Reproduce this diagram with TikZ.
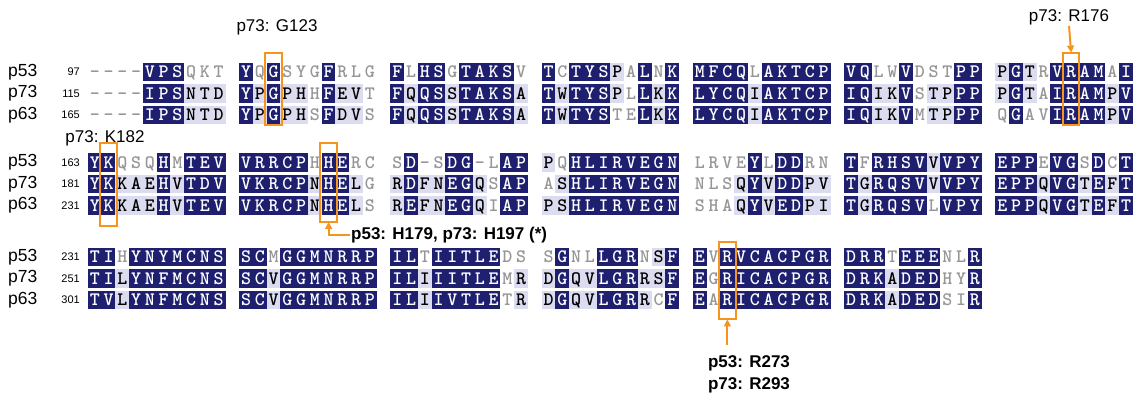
\documentclass[tikz,border=0pt]{standalone}
\usepackage{fontspec}
\setmainfont{Liberation Sans}
\usepackage{xstring}
\usetikzlibrary{arrows.meta,calc}

\definecolor{navy}{RGB}{31,31,112}
\definecolor{lav}{RGB}{220,220,240}
\definecolor{resgray}{RGB}{150,150,150}
\definecolor{hilite}{RGB}{247,148,29}
% cell colours by class: d = identical, k = similar, g = other
\colorlet{bgd}{navy}\colorlet{fgd}{white}
\colorlet{bgk}{lav}\colorlet{fgk}{black}
\colorlet{bgg}{white}\colorlet{fgg}{resgray}

\newcommand\pitch{13.75}
\newcommand\xo{88}

% one row of the alignment: line, row, y, blocks (residues/classes)
\newcommand\seqrow[4]{%
  \foreach \s/\c [count=\b from 0] in {#4} {
    \foreach \k in {1,...,10} {
      \StrChar{\s}{\k}[\res]
      \StrChar{\c}{\k}[\cls]
      \pgfmathtruncatemacro\n{\b*11+\k-1}
      \node[res, fill=bg\cls, text=fg\cls] (c#1-#2-\n) at ({\xo+(\n+0.5)*\pitch}, #3) {\res};
    }
  }
}

\tikzset{
  res/.style={inner sep=0pt, minimum width=14.1pt, minimum height=18.5pt,
    text height=11.6pt, text depth=0pt, font=\ttfamily\bfseries\fontsize{19}{19}\selectfont},
  rowlab/.style={anchor=west, inner sep=0pt, font=\fontsize{17.5}{17.5}\selectfont},
  numlab/.style={anchor=east, inner sep=0pt, font=\fontsize{11}{11}\selectfont},
  sitelab/.style={inner sep=1pt, font=\fontsize{17}{17}\selectfont},
  sitebold/.style={inner sep=1pt, font=\bfseries\fontsize{17}{17}\selectfont},
  sitebox/.style={draw=hilite, line width=2pt},
  sitearrow/.style={draw=hilite, line width=2pt, -{Triangle[length=7pt,width=7pt]}}
}

\begin{document}
\begin{tikzpicture}[x=1pt,y=-1pt]
\useasboundingbox (0,0) rectangle (1141,400);

% Row labels
\foreach \y/\nm/\num [count=\i] in {72/p53/97, 93.5/p73/115, 115/p63/165,
    162.5/p53/163, 184/p73/181, 205.5/p63/231,
    257/p53/231, 278.5/p73/251, 300/p63/301} {
  \node[rowlab] (name\i) at (8,\y) {\nm};
  \node[numlab] (num\i) at (80,\y) {\num};
}

% Line 1
\seqrow{1}{1}{72}{––––VPSQKT/ggggdddggg, YQGSYGFRLG/dgdgggdggg, FLHSGTAKSV/dgddgddddg,
  TCTYSPALNK/dgdddkgdgd, MFCQLAKTCP/ddddgddddd, VQLWVDSTPP/ddggdgggdd, PGTRVRAMAI/kdkgddddgd}
\seqrow{1}{2}{93.5}{––––IPSNTD/ggggdddkkk, YPGPHHFEVT/dkdkkgdkkg, FQQSSTAKSA/dkddkddddk,
  TWTYSPLLKK/dkdddkgdkd, LYCQIAKTCP/ddddkddddd, IQIKVSTPPP/ddkkdgkkdd, PGTAIRAMPV/kdkgddddkd}
\seqrow{1}{3}{115}{––––IPSNTD/ggggdddkkk, YPGPHSFDVS/dkdkkgdkkg, FQQSSTAKSA/dkddkddddk,
  TWTYSTELKK/dkdddggdkd, LYCQIAKTCP/ddddkddddd, IQIKVMTPPP/ddkkdgkkdd, QGAVIRAMPV/gdggddddkd}

% Line 2
\seqrow{2}{1}{162.5}{YKQSQHMTEV/ddgggdgddd, VRRCPHHERC/dddddgddgg, SD-SDG-LAP/gdggddggdd,
  PQHLIRVEGN/kgdddddddd, LRVEYLDDRN/ggggdgddgg, TFRHSVVVPY/dgddddkddd, EPPEVGSDCT/dddgddgdgd}
\seqrow{2}{2}{184}{YKKAEHVTDV/ddkkkdkddd, VKRCPNHELG/dddddkddkg, RDFNEGQSAP/kdkkddkgdd,
  ASHLIRVEGN/gkdddddddd, NLSQYVDDPV/gggkdkddkk, TGRQSVVVPY/dkddddkddd, EPPQVGTEFT/dddkddkdkd}
\seqrow{2}{3}{205.5}{YKKAEHVTEV/ddkkkdkddd, VKRCPNHELS/dddddkddkg, REFNEGQIAP/kdkkddkgdd,
  PSHLIRVEGN/kkdddddddd, SHAQYVEDPI/gggkdkddkk, TGRQSVLVPY/dkddddgddd, EPPQVGTEFT/dddkddkdkd}

% Line 3
\seqrow{3}{1}{257}{TIHYNYMCNS/ddgddddddd, SCMGGMNRRP/ddgddddddd, ILTIITLEDS/ddgdddddgg,
  SGNLLGRNSF/gdggdddgkd, EVRVCACPGR/dgdddddddd, DRRTEEENLR/dddgdddggd}
\seqrow{3}{2}{278.5}{TILYNFMCNS/ddkddddddd, SCVGGMNRRP/ddkddddddd, ILIIITLEMR/ddkdddddgk,
  DGQVLGRRSF/kdkkdddkkd, EGRICACPGR/dgdddddddd, DRKADEDHYR/dddkdddggd}
\seqrow{3}{3}{300}{TVLYNFMCNS/ddkddddddd, SCVGGMNRRP/ddkddddddd, ILIIVTLETR/ddkdddddgk,
  DGQVLGRRCF/kdkkdddkgd, EARICACPGR/dgdddddddd, DRKADEDSIR/dddkdddggd}

% Highlighted sites
\draw[sitebox] ($(c1-1-13.north west)+(-1,-10)$) rectangle ($(c1-3-13.south east)+(1,1)$);
\draw[sitebox] ($(c1-1-71.north west)+(-1,-10)$) rectangle ($(c1-3-71.south east)+(1,1)$);
\draw[sitebox] ($(c2-1-1.north west)+(-1,-10)$) rectangle ($(c2-3-1.south east)+(1,11)$);
\draw[sitebox] ($(c2-1-17.north west)+(-1,-10)$) rectangle ($(c2-3-17.south east)+(1,7)$);
\draw[sitebox] ($(c3-1-46.north west)+(-1,-6)$) rectangle ($(c3-3-46.south east)+(1,10)$);

% Site labels
\node[sitelab] (lab-g123) at (277,27) {p73: G123};
\node[sitelab] (lab-r176) at (1069,17) {p73: R176};
\node[sitelab] (lab-k182) at (105,138) {p73: K182};
\node[sitebold, anchor=west] (lab-h179) at (350,235) {p53: H179, p73: H197 (*)};
\node[sitebold] (lab-r273) at (749,363) {p53: R273};
\node[sitebold] (lab-r293) at (749,385) {p73: R293};

% Arrows
\coordinate (top-r176) at ($(c1-1-71.north)+(0,-10)$);
\coordinate (bot-h179) at ($(c2-3-17.south)+(0,7)$);
\coordinate (bot-r273) at ($(c3-3-46.south)+(0,10)$);
\coordinate (tail-r273) at ($(bot-r273)+(0,26)$);
\draw[sitearrow] (lab-r176.south) -- (top-r176);
\draw[sitearrow] (lab-h179.west) -| (bot-h179);
\draw[sitearrow] (tail-r273) -- (bot-r273);

\end{tikzpicture}
\end{document}
